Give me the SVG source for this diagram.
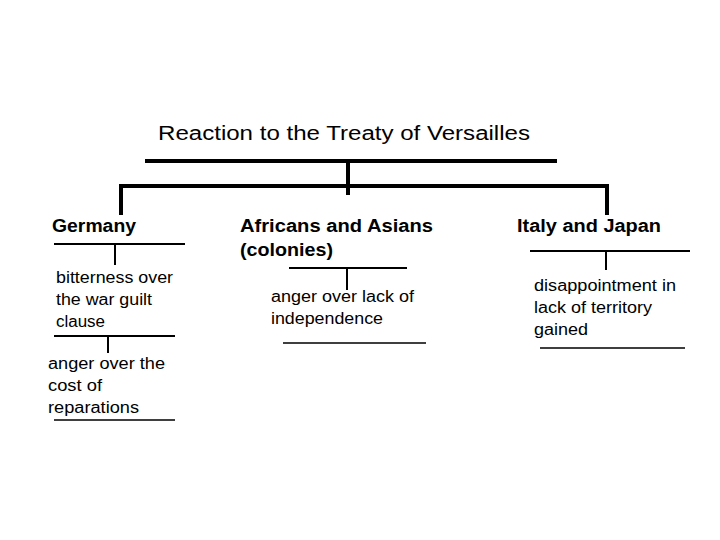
<svg xmlns="http://www.w3.org/2000/svg" width="720" height="540" viewBox="0 0 720 540">
<style>
text{font-family:"Liberation Sans",Arial,sans-serif;fill:#000}
.t{font-size:20px}.h{font-size:18px;font-weight:bold}.b{font-size:16px}
.thick{stroke:#000;stroke-width:4;fill:none}
.mid{stroke:#000;stroke-width:2;fill:none}
.thin{stroke:#000;stroke-width:1.3;fill:none}
</style>
<rect width="720" height="540" fill="#fff"/>
<g id="title"><text class="t" x="158" y="140" textLength="372" lengthAdjust="spacingAndGlyphs">Reaction to the Treaty of Versailles</text></g>
<g id="connectors">
<path class="thick" d="M145 161H557M348 161V195M121 215V186H607V215"/>
<path class="mid" d="M54 244H185M115 244V265M289 268H407M347 268V290M530 251H690M606 251V270M54 336H175M108 336V353"/>
<path class="thin" d="M54 420H175M283 343H426M540 348H685"/>
</g>
<g id="germany"><text class="h" x="52" y="232" textLength="84" lengthAdjust="spacingAndGlyphs">Germany</text></g>
<g id="colonies"><text class="h" x="240" y="232" textLength="193" lengthAdjust="spacingAndGlyphs">Africans and Asians</text><text class="h" x="240" y="256" textLength="93" lengthAdjust="spacingAndGlyphs">(colonies)</text></g>
<g id="italy"><text class="h" x="517" y="232" textLength="144" lengthAdjust="spacingAndGlyphs">Italy and Japan</text></g>
<g id="guilt"><text class="b" x="56" y="283" textLength="117" lengthAdjust="spacingAndGlyphs">bitterness over</text><text class="b" x="56" y="305" textLength="96" lengthAdjust="spacingAndGlyphs">the war guilt</text><text class="b" x="56" y="327" textLength="49" lengthAdjust="spacingAndGlyphs">clause</text></g>
<g id="reparations"><text class="b" x="48" y="369" textLength="117" lengthAdjust="spacingAndGlyphs">anger over the</text><text class="b" x="48" y="391" textLength="54" lengthAdjust="spacingAndGlyphs">cost of</text><text class="b" x="48" y="413" textLength="91" lengthAdjust="spacingAndGlyphs">reparations</text></g>
<g id="independence"><text class="b" x="271" y="302" textLength="143" lengthAdjust="spacingAndGlyphs">anger over lack of</text><text class="b" x="271" y="324" textLength="112" lengthAdjust="spacingAndGlyphs">independence</text></g>
<g id="territory"><text class="b" x="534" y="291" textLength="142" lengthAdjust="spacingAndGlyphs">disappointment in</text><text class="b" x="534" y="313" textLength="118" lengthAdjust="spacingAndGlyphs">lack of territory</text><text class="b" x="534" y="335" textLength="54" lengthAdjust="spacingAndGlyphs">gained</text></g>
</svg>
